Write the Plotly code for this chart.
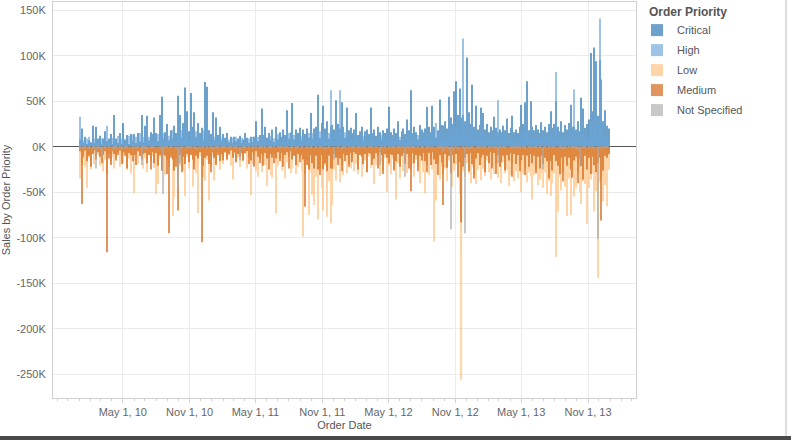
import pandas as pd
import plotly.graph_objects as go

# Order dates (5-day buckets, Jan 2010 - Dec 2013)
order_dates = pd.date_range("2010-01-03", periods=292, freq="5D")

# Sales in thousands
critical = [
    8,20,4,11,3,7,5,23,4,22, 9,12,3,9,17,6,9,14,3,35, 9,4,15,3,26,8,13,3,14,6,
    14,4,15,6,35,5,23,34,7,16, 14,32,15,6,35,55,9,16,25,7, 18,9,23,15,56,35,10,26,65,39,
    17,59,22,38,11,26,15,21,8,71, 66,18,14,38,7,32,13,22,6,14, 10,15,5,11,4,11,6,9,12,4,
    8,15,10,4,11,5,11,28,6,13, 42,13,22,10,15,7,19,5,22,8, 16,11,19,13,40,9,16,48,8,19,
    15,21,7,19,14,20,10,37,9,20, 22,57,10,26,45,20,28,9,22,24, 19,51,25,20,49,22,10,43,18,21,
    15,19,37,13,17,22,7,17,19,14, 43,15,19,12,22,16,8,18,15,20, 44,16,13,20,15,28,7,17,20,14,
    30,18,62,15,22,16,8,24,19,16, 20,44,22,16,45,22,10,18,52,24, 23,28,20,55,32,25,61,72,35,64,
    32,35,28,98,38,25,68,22,45,19, 24,43,37,19,25,16,22,18,33,21, 16,19,16,23,18,31,15,21,34,16,
    19,15,22,46,25,49,72,18,50,22, 18,24,19,15,27,18,22,16,25,39, 21,25,50,22,17,28,16,24,19,26,
    46,22,22,19,28,17,54,42,21,25, 30,103,39,109,94,34,95,74,28,40, 23,20,
]
high = [
    33,8,7,5,9,11,3,8,9,8, 4,3,9,2,5,23,5,4,10,13, 3,12,4,9,8,3,5,12,4,13,
    5,11,3,15,15,11,8,12,11,6, 6,10,5,14,10,20,15,4,10,12, 6,19,5,7,16,15,18,12,20,14,
    8,19,7,13,17,9,5,7,18,23, 21,6,5,12,11,12,5,8,10,5, 4,5,8,4,10,3,11,4,3,10,
    3,6,4,9,3,11,4,10,11,4, 14,5,8,4,6,12,7,9,8,14, 6,4,7,5,14,15,5,18,13,7,
    6,7,12,8,6,7,15,12,15,8, 8,19,17,10,15,8,10,15,62,9, 7,16,9,62,17,8,16,15,7,8,
    6,7,13,5,6,8,12,7,6,5, 15,6,7,5,8,6,13,7,6,7, 14,6,5,7,6,10,11,6,8,5,
    10,7,17,6,8,6,13,9,7,6, 8,14,8,6,17,9,26,7,17,9, 9,10,8,17,12,9,21,22,13,22,
    12,119,10,38,13,9,23,8,15,7, 9,15,12,7,9,6,8,7,11,8, 51,7,6,8,7,10,6,8,11,6,
    7,6,8,16,9,16,20,7,15,8, 8,9,7,6,10,7,8,6,9,14, 8,9,82,8,6,10,6,9,7,9,
    16,8,63,7,10,6,16,14,8,9, 10,23,14,24,34,12,141,19,10,12, 8,8,
]
low = [
    -35,-20,-8,-22,-45,-12,-25,-6,-19,-11, -9,-21,-5,-27,-14,-30,-8,-17,-11,-24,
    -12,-6,-22,-10,-18,-7,-25,-13,-29,-9, -51,-8,-19,-11,-6,-24,-13,-28,-9,-16,
    -10,-23,-52,-41,-12,-27,-8,-31,-14,-22, -9,-76,-56,-13,-30,-21,-7,-26,-54,-11,
    -24,-8,-44,-17,-29,-73,-10,-20,-33,-37, -14,-59,-22,-9,-37,-18,-6,-25,-11,-19,
    -7,-15,-10,-21,-36,-8,-17,-12,-22,-9, -16,-8,-24,-11,-53,-19,-9,-27,-33,-13,
    -28,-10,-20,-43,-12,-31,-34,-8,-73,-21, -13,-26,-9,-35,-17,-11,-29,-24,-10,-30,
    -22,-12,-27,-99,-30,-15,-75,-28,-53,-64, -33,-80,-24,-45,-70,-21,-77,-38,-84,-64,
    -25,-37,-12,-39,-20,-31,-10,-29,-18,-24, -12,-27,-19,-30,-9,-33,-22,-15,-28,-11,
    -23,-14,-41,-20,-10,-32,-17,-26,-12,-50, -21,-30,-13,-24,-58,-18,-35,-11,-27,-16,
    -29,-12,-26,-19,-33,-14,-22,-40,-15,-28, -51,-20,-31,-14,-25,-104,-59,-18,-36,-22,
    -30,-24,-38,-15,-28,-44,-26,-19,-35,-52, -256,-27,-33,-18,-29,-40,-22,-31,-41,-25,
    -20,-37,-24,-32,-15,-28,-36,-21,-30,-18, -34,-22,-40,-17,-29,-25,-43,-31,-19,-38,
    -27,-35,-21,-50,-30,-24,-39,-28,-33,-58, -31,-25,-42,-36,-30,-45,-28,-52,-37,-54,
    -40,-29,-121,-71,-33,-48,-27,-44,-76,-35, -75,-32,-55,-46,-28,-50,-63,-38,-41,-85,
    -45,-36,-30,-71,-49,-144,-39,-33,-60,-42, -65,-25,
]
medium = [
    -5,-63,-12,-4,-16,-10,-22,-8,-4,-14, -6,-11,-18,-9,-5,-116,-13,-20,-5,-8,
    -15,-9,-4,-19,-6,-10,-24,-7,-9,-16, -9,-20,-5,-10,-14,-8,-7,-18,-9,-25,
    -6,-18,-7,-21,-9,-26,-8,-10,-30,-95, -12,-14,-26,-22,-70,-9,-28,-11,-19,-8,
    -17,-9,-14,-25,-10,-13,-6,-105,-21,-12, -10,-19,-28,-6,-12,-20,-9,-16,-8,-15,
    -6,-14,-8,-4,-12,-6,-17,-8,-11,-7, -15,-7,-5,-19,-15,-6,-22,-5,-11,-18,
    -8,-21,-7,-13,-25,-8,-12,-18,-13,-6, -16,-7,-22,-9,-6,-24,-5,-14,-10,-20,
    -8,-17,-9,-14,-66,-20,-25,-9,-18,-24, -10,-25,-31,-9,-25,-18,-27,-10,-24,-24,
    -8,-12,-20,-13,-27,-8,-16,-9,-22,-7, -17,-6,-8,-25,-9,-11,-19,-8,-28,-7,
    -8,-20,-13,-7,-24,-6,-9,-30,-8,-12, -18,-8,-9,-26,-16,-8,-22,-10,-7,-19,
    -8,-24,-49,-7,-18,-9,-27,-10,-15,-7, -16,-28,-7,-20,-6,-14,-19,-31,-9,-17,
    -64,-8,-23,-10,-29,-9,-18,-8,-33,-17, -83,-22,-12,-8,-27,-7,-19,-35,-13,-7,
    -20,-12,-9,-28,-10,-18,-6,-24,-7,-30, -9,-22,-17,-10,-26,-9,-15,-7,-33,-8,
    -19,-9,-27,-15,-9,-31,-10,-22,-8,-18, -10,-29,-11,-24,-10,-19,-12,-16,-35,-16,
    -26,-9,-16,-21,-30,-12,-38,-11,-21,-12, -25,-34,-15,-11,-40,-13,-21,-36,-10,-25,
    -12,-30,-11,-20,-28,-18,-12,-81,-26,-10, -12,-8,
]
not_specified = [
    -2,0,-3,-1,0,-2,0,-3,-1,-24, -1,-3,-12,0,-2,0,-1,0,-3,-2,
    -2,0,-1,-3,0,-2,-1,0,0,-2, 0,-2,-1,0,-20,-1,-2,-3,0,-1,
    -2,0,0,0,-3,-1,-52,-2,-1,0, -2,0,0,-3,-45,-18,-2,0,0,-2,
    -1,-2,0,-1,-3,0,-2,0,-1,0, -2,0,-1,-3,0,-2,-1,0,-2,-1,
    -1,0,-2,-1,0,-1,-2,0,-15,0, -1,-2,0,-1,0,-2,0,-1,0,-2,
    -1,0,-2,0,-1,-2,0,-1,0,-1, -2,-1,0,-2,-1,0,-3,-1,0,-2,
    -1,0,-2,0,0,-1,0,-2,0,0, -2,0,-1,-2,0,-3,0,-1,0,0,
    -14,0,-2,0,-3,-1,-2,0,-1,0, -2,-1,0,-2,-1,0,-1,-2,0,-1,
    -1,-2,0,-1,0,-20,-1,0,-2,0, -2,0,-1,-2,0,-1,-2,0,-1,-33,
    -1,-2,0,-1,-2,0,-1,0,-2,-1, 0,-2,-1,0,-2,0,0,-1,-2,-1,
    -5,-2,-1,-3,-91,-2,-4,-1,-3,0, 0,-2,-95,-1,-3,-2,-1,0,0,-2,
    -1,0,-2,-1,0,-2,-1,0,-2,-1, -18,-2,0,-1,-2,0,0,-1,-2,-1,
    -2,-1,-2,0,-1,-2,0,-1,-2,0, -1,-2,0,-1,0,-25,-1,0,-2,0,
    -2,-1,0,0,-2,-1,-3,-2,0,-1, 0,-2,-1,-2,-3,-22,0,-1,-2,0,
    -2,0,-1,-3,0,-101,-2,0,-1,-2, -1,0,
]

series_names = ["Critical", "High", "Low", "Medium", "Not Specified"]
series_values = [critical, high, low, medium, not_specified]
series_colors = ["#1f6fb0", "#6aa6da", "#ffbf7b", "#d05e09", "#ababab"]

y_tick_vals = [150, 100, 50, 0, -50, -100, -150, -200, -250]
y_tick_text = ["150K", "100K", "50K", "0K", "-50K", "-100K", "-150K", "-200K", "-250K"]
x_tick_vals = ["2010-05-01", "2010-11-01", "2011-05-01", "2011-11-01",
               "2012-05-01", "2012-11-01", "2013-05-01", "2013-11-01"]
x_tick_text = ["May 1, 10", "Nov 1, 10", "May 1, 11", "Nov 1, 11",
               "May 1, 12", "Nov 1, 12", "May 1, 13", "Nov 1, 13"]

FONT = "Liberation Sans, Arial, sans-serif"
DAY_MS = 86400000

fig = go.Figure()
for name, vals, col in zip(series_names, series_values, series_colors):
    fig.add_trace(go.Bar(
        x=order_dates, y=[v * 1000 for v in vals], name=name, legendgroup=name,
        marker=dict(color=col, line=dict(width=0)),
        opacity=0.65, width=3.0 * DAY_MS,
    ))

fig.update_layout(
    width=791, height=440,
    barmode="overlay",
    paper_bgcolor="white", plot_bgcolor="white",
    margin=dict(l=53, r=155, t=2, b=42, autoexpand=False),
    font=dict(family=FONT, size=11, color="#666666"),
    showlegend=True,
    legend=dict(
        title=dict(text="&nbsp;&nbsp;&nbsp;<b>Order Priority</b>",
                   font=dict(size=12, color="#555555")),
        xref="container", yref="container",
        x=637 / 791, y=1 + 19 / 440, xanchor="left", yanchor="top",
        font=dict(size=11, color="#555555"),
        tracegroupgap=1,
        bgcolor="rgba(0,0,0,0)",
    ),
    xaxis=dict(
        type="date", automargin=False,
        range=["2009-10-21", "2014-03-13"],
        tickvals=x_tick_vals, ticktext=x_tick_text,
        showgrid=True, gridcolor="#ebebeb", gridwidth=1,
        showline=True, linecolor="#d0d0d0", linewidth=1, mirror=True,
        ticks="outside", ticklen=4, tickcolor="#d0d0d0",
        minor=dict(dtick="M1", tick0="2009-11-01", ticks="outside", ticklen=2,
                   tickcolor="#d0d0d0", showgrid=False),
        title=dict(text="Order Date", font=dict(size=11, color="#555555"), standoff=4),
        zeroline=False,
    ),
    yaxis=dict(
        automargin=False,
        range=[-276000, 159000],
        tickvals=[v * 1000 for v in y_tick_vals], ticktext=y_tick_text,
        showgrid=True, gridcolor="#ebebeb", gridwidth=1,
        showline=True, linecolor="#d0d0d0", linewidth=1, mirror=True,
        ticks="", ticklabelstandoff=4,
        zeroline=True, zerolinecolor="#555555", zerolinewidth=1,
        title=dict(text="Sales by Order Priority", font=dict(size=11, color="#555555"), standoff=4),
    ),
)

# screenshot frame (plot area spans x 53..636 px, y 2..398 px)
PLOT_W, PLOT_H = 583, 396
fig.add_shape(type="rect", xref="paper", yref="paper",
              x0=-53 / PLOT_W, x1=738 / PLOT_W,
              y0=-(440 - 398) / PLOT_H, y1=-(436 - 398) / PLOT_H,
              fillcolor="#4a4a4a", line=dict(width=0), layer="above")
fig.add_shape(type="line", xref="paper", yref="paper",
              x0=(786 - 53) / PLOT_W, x1=(786 - 53) / PLOT_W,
              y0=-(436 - 398) / PLOT_H, y1=(398 - 0) / PLOT_H,
              line=dict(color="#bbbbbb", width=1))

fig.write_html("out.html", config={"displayModeBar": False},
               post_script="document.body.style.margin='0';")
